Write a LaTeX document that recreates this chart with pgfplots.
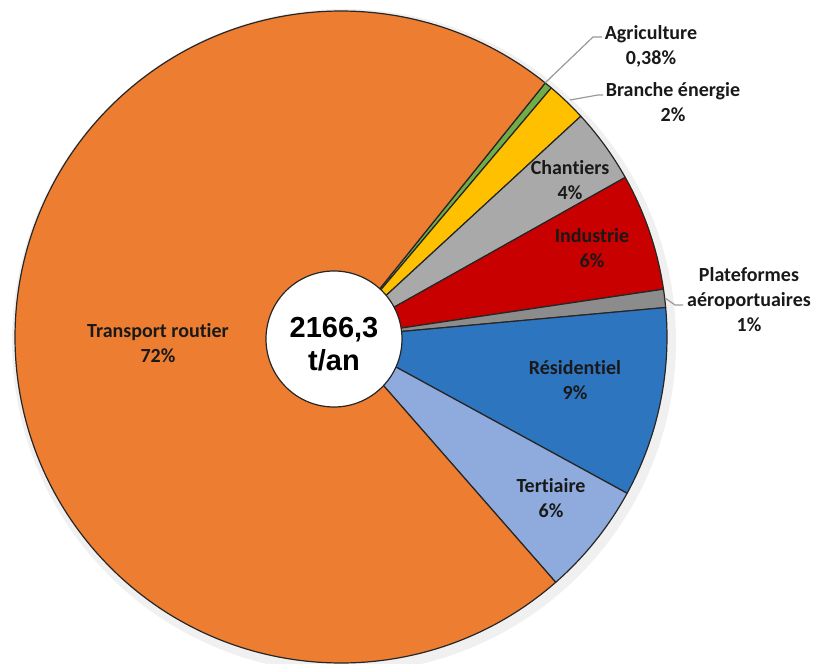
\documentclass[border=0pt]{standalone}
\usepackage{pgfplots}
\usepackage{pgfplotstable}
\pgfplotsset{compat=1.18}
\usepackage{fontspec}
\setmainfont{Carlito}[Ligatures=NoCommon,RawFeature={-liga;-dlig}]
\newfontfamily\arialfont{Liberation Sans}
\definecolor{cTra}{HTML}{ED7D31}
\definecolor{cAgr}{HTML}{70AD47}
\definecolor{cBra}{HTML}{FFC000}
\definecolor{cCha}{HTML}{A9A9A9}
\definecolor{cInd}{HTML}{C80000}
\definecolor{cPla}{HTML}{8C8C8C}
\definecolor{cRes}{HTML}{2E75C0}
\definecolor{cTer}{HTML}{8FAADC}

\pgfplotstableread{
label value color
Agriculture 0.38 cAgr
Branche 2.0 cBra
Chantiers 3.7 cCha
Industrie 5.8 cInd
Plateformes 0.9 cPla
Residentiel 9.4 cRes
Tertiaire 5.6 cTer
Transport 72.22 cTra
}\pietable

\begin{document}
\begin{tikzpicture}
\begin{axis}[x=0.5pt,y=0.5pt,xmin=0,xmax=814,ymin=0,ymax=664,
  hide axis,clip=false,disabledatascaling,scale only axis]
% soft shadow
\fill[black!12] (axis cs:343,324) circle[radius=164.5pt];
\fill[black!6] (axis cs:344,323) circle[radius=166pt];
\pgfplotstablegetrowsof{\pietable}
\pgfmathtruncatemacro\nrows{\pgfplotsretval-1}
\xdef\angA{51.2}
\pgfplotsforeachungrouped \i in {0,...,\nrows}{%
  \pgfplotstablegetelem{\i}{value}\of\pietable \let\sliceval\pgfplotsretval
  \pgfplotstablegetelem{\i}{color}\of\pietable \let\slicecol\pgfplotsretval
  \pgfmathsetmacro\angB{\angA-3.6*\sliceval}%
  \edef\temp{\noexpand\fill[\slicecol,draw=black!85,line width=0.6pt,line join=round]
    (axis cs:341,327) -- ++(\angA:163pt) arc[start angle=\angA,end angle=\angB,radius=163pt] -- cycle;}%
  \temp
  \xdef\angA{\angB}%
}
% hole
\fill[white,draw=black!85,line width=0.6pt] (axis cs:334,325) circle[radius=34pt];
% leader lines
\draw[black!40,line width=0.6pt] (axis cs:545,581) -- (axis cs:593,627) -- (axis cs:602,627);
\draw[black!40,line width=0.6pt] (axis cs:570,564) -- (axis cs:598,569) -- (axis cs:603,569);
\draw[black!40,line width=0.6pt] (axis cs:665,366) -- (axis cs:675,359) -- (axis cs:683,359);
% labels
\begin{scope}[every node/.style={align=center,font=\bfseries\fontsize{10}{12.5}\selectfont,text=black!90,inner sep=0pt}]
\node at (axis cs:651,618) {Agriculture\\0,38\%};
\node at (axis cs:673,562) {Branche énergie\\2\%};
\node at (axis cs:570,484) {Chantiers\\4\%};
\node at (axis cs:592,416) {Industrie\\6\%};
\node at (axis cs:749,364) {Plateformes\\aéroportuaires\\1\%};
\node at (axis cs:575,284) {Résidentiel\\9\%};
\node at (axis cs:551,166) {Tertiaire\\6\%};
\node at (axis cs:158,321) {Transport routier\\72\%};
\end{scope}
\node[align=center,inner sep=0pt,font=\arialfont\bfseries\fontsize{14.5}{16.5}\selectfont] at (axis cs:334,320) {2166,3\\t/an};
\end{axis}
\pgfresetboundingbox
\path (current axis.south west) rectangle (current axis.north east);
\end{tikzpicture}
\end{document}
